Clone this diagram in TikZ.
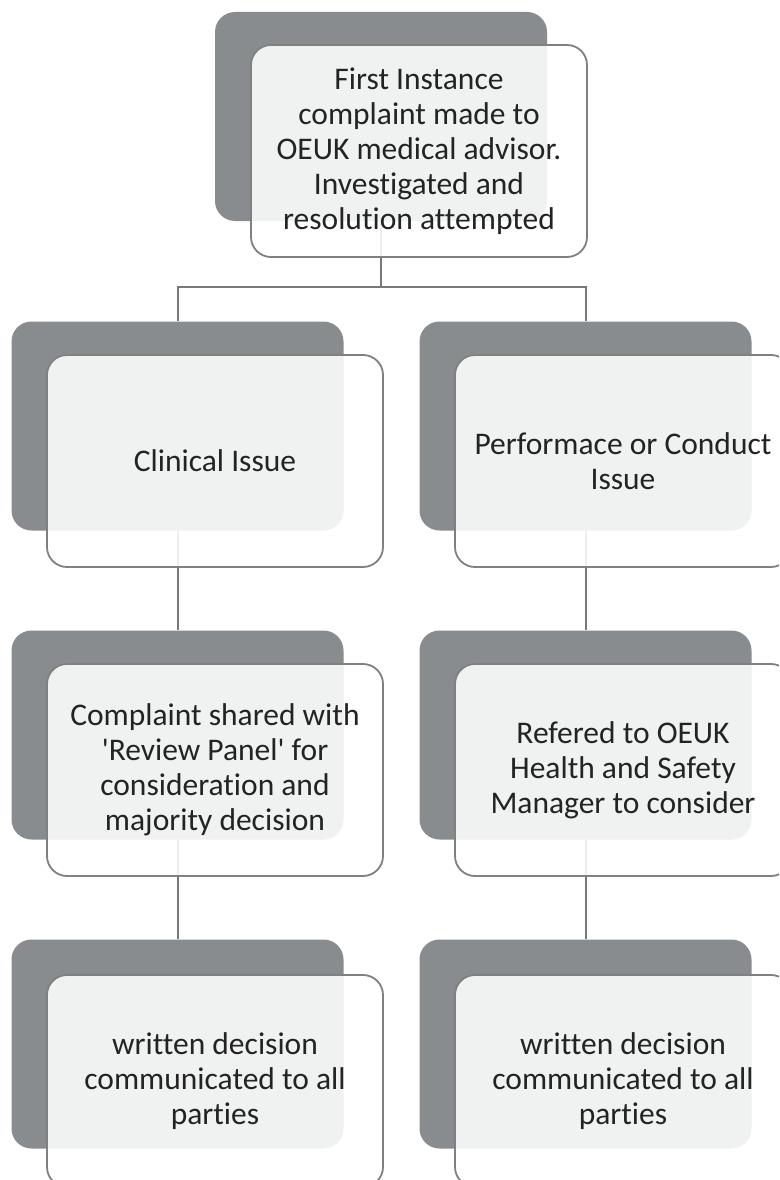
\documentclass[tikz,border=0pt]{standalone}
\usepackage{fontspec}
\setmainfont{Carlito}[Ligatures={TeX,NoCommon}]
\begin{document}
\begin{tikzpicture}[x=1pt,y=-1pt,
  backbox/.style={rectangle,rounded corners=20pt,fill=darkgrey,draw=none,minimum width=332pt,minimum height=209pt,inner sep=0pt},
  frontbox/.style={rectangle,rounded corners=20pt,fill=white,fill opacity=0.88,text opacity=1,draw=bordergrey,line width=1.8pt,minimum width=336pt,minimum height=212pt,inner sep=0pt,align=center,text=textgrey,font=\fontsize{31.5}{35}\selectfont},
  link/.style={draw=linegrey,line width=2pt}]
\definecolor{darkgrey}{RGB}{137,140,143}
\definecolor{bordergrey}{RGB}{128,128,128}
\definecolor{linegrey}{RGB}{120,120,120}
\definecolor{textgrey}{RGB}{35,35,35}
\useasboundingbox (0,0) rectangle (779,1180);
\clip (0,0) rectangle (779,1180);
\fill[white] (0,0) rectangle (779,1180);
% back boxes
\node[backbox] (t0b) at (381,116.5) {};
\node[backbox] (l1b) at (177.5,426) {};
\node[backbox] (r1b) at (585.5,426) {};
\node[backbox] (l2b) at (177.5,735) {};
\node[backbox] (r2b) at (585.5,735) {};
\node[backbox] (l3b) at (177.5,1044) {};
\node[backbox] (r3b) at (585.5,1044) {};
% connectors
\coordinate (split) at (381,287);
\draw[link] (t0b.south) -- (split) -| (l1b.north);
\draw[link] (split) -| (r1b.north);
\draw[link] (l1b.south) -- (l2b.north);
\draw[link] (r1b.south) -- (r2b.north);
\draw[link] (l2b.south) -- (l3b.north);
\draw[link] (r2b.south) -- (r3b.north);
% front boxes
\node[frontbox] (t0) at (419,151) {First Instance\\complaint made to\\OEUK medical advisor.\\Investigated and\\resolution attempted};
\node[frontbox] (l1) at (215,461) {Clinical Issue};
\node[frontbox] (r1) at (623,461) {Performace or Conduct\\Issue};
\node[frontbox] (l2) at (215,770) {Complaint shared with\\\textquotesingle Review Panel\textquotesingle{} for\\consideration and\\majority decision};
\node[frontbox] (r2) at (623,770) {Refered to OEUK\\Health and Safety\\Manager to consider};
\node[frontbox] (l3) at (215,1081) {written decision\\communicated to all\\parties};
\node[frontbox] (r3) at (623,1081) {written decision\\communicated to all\\parties};
\end{tikzpicture}
\end{document}
